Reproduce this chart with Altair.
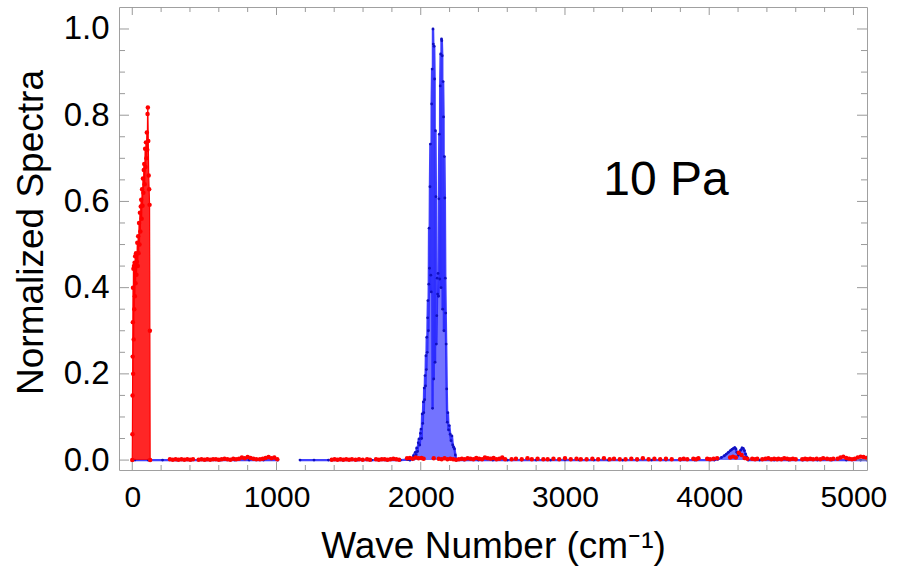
import altair as alt
import pandas as pd

# ---------------- data ----------------
# red series: strong low-frequency band (0-124 cm-1)
red_rot_x = [0, 1, 2, 3, 4, 5, 6, 8, 10, 12,
             14, 16, 18, 20, 23, 26, 29, 32, 35, 38,
             41, 44, 47, 50, 53, 56, 59, 62, 65, 68,
             71, 74, 77, 80, 83, 86, 89, 92, 95, 98,
             101, 104, 106, 108, 111, 114, 117, 120, 122, 124]
red_rot_y = [0.0, 0.06, 0.15, 0.24, 0.32, 0.40, 0.20, 0.444, 0.28, 0.45,
             0.35, 0.458, 0.38, 0.473, 0.41, 0.48, 0.43, 0.46, 0.504, 0.45,
             0.519, 0.48, 0.55, 0.50, 0.574, 0.53, 0.588, 0.604, 0.56, 0.628,
             0.59, 0.653, 0.62, 0.673, 0.687, 0.64, 0.722, 0.68, 0.737, 0.70,
             0.76, 0.72, 0.803, 0.818, 0.74, 0.66, 0.628, 0.592, 0.30, 0.0]

# red series: near-zero points 261-1005 cm-1
red_low_x = [261, 281, 301, 321, 341, 361, 381, 401, 421,
             460, 480, 500, 520, 540, 560, 580, 600, 620, 640,
             660, 680, 700, 720, 740, 760, 780, 800, 820, 840, 860,
             885, 905, 925, 945, 965, 985, 1005]
red_low_y = [0.002, 0.001, 0.002, 0.001, 0.002, 0.001, 0.002, 0.001, 0.002,
             0.001, 0.002, 0.001, 0.002, 0.001, 0.002, 0.002, 0.001, 0.002, 0.003,
             0.002, 0.001, 0.003, 0.002, 0.003, 0.006, 0.004, 0.007, 0.005, 0.003, 0.002,
             0.002, 0.003, 0.005, 0.007, 0.004, 0.006, 0.002]

# red series: near-zero points 1383-5090 cm-1
red_high_x = [1383, 1403, 1423, 1443, 1463, 1483, 1503, 1523,
              1548, 1572, 1598,
              1628, 1648,
              1690, 1710, 1730, 1750, 1770, 1790, 1810, 1830, 1850,
              1905, 1925, 1945, 1965, 1985, 2005, 2020,
              2090,
              2125, 2145, 2165, 2185, 2205, 2225, 2245, 2265, 2285, 2305, 2325, 2345,
              2365, 2385, 2405, 2425, 2445, 2465, 2485, 2505, 2525, 2545, 2565, 2585,
              2630, 2660, 2700, 2740, 2770, 2810, 2850, 2880, 2920, 2960,
              3000, 3040, 3080, 3110, 3150, 3190, 3230, 3270, 3310, 3340,
              3380, 3420, 3460, 3500, 3540, 3580, 3620, 3660, 3700, 3740,
              3798, 3823, 3848, 3890, 3910, 3925, 3986, 4006, 4030, 4055,
              4145, 4165, 4185, 4205, 4225, 4245, 4265,
              4298, 4318, 4333, 4368, 4390, 4410, 4430, 4450, 4471, 4480, 4500, 4520,
              4540, 4560, 4580, 4600,
              4645, 4665, 4680, 4700, 4720, 4745, 4770, 4790, 4817, 4840, 4860,
              4890, 4910, 4930, 4950, 4970, 4990, 5010, 5030, 5050, 5070, 5090]
red_high_y = [0.001, 0.002, 0.001, 0.002, 0.001, 0.002, 0.001, 0.002,
              0.001, 0.002, 0.001,
              0.002, 0.001,
              0.002, 0.001, 0.002, 0.002, 0.001, 0.002, 0.003, 0.002, 0.001,
              0.004, 0.005, 0.003, 0.006, 0.004, 0.005, 0.003,
              0.004,
              0.003, 0.002, 0.004, 0.002, 0.003, 0.002, 0.001, 0.002, 0.003, 0.002, 0.004, 0.003,
              0.002, 0.005, 0.003, 0.002, 0.006, 0.004, 0.003, 0.005, 0.002, 0.003, 0.006, 0.002,
              0.002, 0.003, 0.002, 0.004, 0.002, 0.003, 0.002, 0.002, 0.003, 0.002,
              0.004, 0.002, 0.003, 0.002, 0.002, 0.003, 0.002, 0.004, 0.002, 0.003,
              0.002, 0.002, 0.003, 0.002, 0.004, 0.002, 0.003, 0.002, 0.003, 0.002,
              0.002, 0.003, 0.002, 0.003, 0.002, 0.004, 0.003, 0.002, 0.003, 0.004,
              0.006, 0.008, 0.006, 0.017, 0.012, 0.005, 0.003,
              0.003, 0.002, 0.003, 0.002, 0.003, 0.004, 0.002, 0.003, 0.002, 0.003, 0.002, 0.004,
              0.003, 0.002, 0.003, 0.002,
              0.002, 0.003, 0.002, 0.003, 0.002, 0.003, 0.002, 0.004, 0.003, 0.002, 0.003,
              0.003, 0.006, 0.008, 0.005, 0.003, 0.002, 0.003, 0.006, 0.008, 0.007, 0.005]

# blue series, first piece (18-1010 cm-1)
blue_base0_x = [18, 110, 210, 310, 410, 510, 610, 710, 810, 910, 1010]
blue_base0_y = [0.0, 0.0, 0.0, 0.0, 0.0, 0.0, 0.0, 0.0, 0.0, 0.0, 0.0]

# blue series, second piece (1163 cm-1 onwards)
blue_mid_x = [1163, 1260, 1360, 1460, 1560, 1660, 1760, 1860, 1910]
blue_mid_y = [0.0, 0.0, 0.0, 0.0, 0.0, 0.0, 0.0, 0.0, 0.001]

blue_band_x = [1925, 1935, 1942, 1950, 1956, 1962, 1968, 1972, 1978, 1983,
               1988, 1993, 1998, 2002, 2006, 2010, 2014, 2018, 2021, 2024,
               2027, 2030, 2033, 2036, 2039, 2042, 2045, 2048, 2050, 2053,
               2056, 2058, 2061, 2064, 2067, 2070, 2073, 2076, 2079, 2082,
               2085, 2087, 2090, 2093, 2096, 2099, 2102, 2105, 2108, 2111,
               2114, 2117, 2120, 2123, 2126, 2129, 2132, 2135, 2138, 2141,
               2144, 2146, 2149, 2152, 2155, 2158, 2161, 2164, 2167, 2170,
               2173, 2176, 2180, 2184, 2188, 2193, 2198, 2204, 2210, 2216,
               2222, 2228, 2234, 2240, 2248]
blue_band_y = [0.000, 0.004, 0.002, 0.010, 0.006, 0.018, 0.012, 0.028, 0.020, 0.040,
               0.049, 0.035, 0.062, 0.072, 0.050, 0.107, 0.085, 0.135, 0.110, 0.167,
               0.140, 0.196, 0.172, 0.242, 0.210, 0.285, 0.250, 0.330, 0.370, 0.300,
               0.408, 0.538, 0.445, 0.634, 0.733, 0.429, 0.390, 0.826, 0.907, 0.120,
               1.000, 0.965, 0.188, 0.960, 0.884, 0.227, 0.764, 0.611, 0.269, 0.335,
               0.422, 0.385, 0.433, 0.380, 0.606, 0.756, 0.420, 0.868, 0.942, 0.400,
               0.977, 0.973, 0.938, 0.350, 0.878, 0.796, 0.300, 0.704, 0.608, 0.422,
               0.341, 0.269, 0.165, 0.088, 0.110, 0.070, 0.080, 0.060, 0.045, 0.056,
               0.035, 0.030, 0.026, 0.012, 0.000]

blue_hi_x = [2300, 2400, 2500, 2600, 2700, 2800, 2900, 3000, 3100,
             3200, 3300, 3400, 3500, 3600, 3700, 3800, 3900, 4000]
blue_hi_y = [0.0, 0.0, 0.0, 0.0, 0.0, 0.0, 0.0, 0.0, 0.0,
             0.0, 0.0, 0.0, 0.0, 0.0, 0.0, 0.0, 0.0, 0.0]

blue_bump_x = [4036, 4060, 4085, 4105, 4119, 4133, 4147, 4158, 4168, 4177,
               4185, 4192, 4202, 4210, 4218, 4228, 4236, 4244, 4252, 4260, 4270]
blue_bump_y = [0.0, 0.002, 0.006, 0.010, 0.014, 0.018, 0.022, 0.025, 0.027, 0.029,
               0.026, 0.018, 0.012, 0.017, 0.023, 0.028, 0.027, 0.022, 0.014, 0.007, 0.0]

blue_tail_x = [4350, 4450, 4550, 4650, 4750, 4850, 4950, 5050, 5094]
blue_tail_y = [0.0, 0.0, 0.0, 0.0, 0.0, 0.0, 0.0, 0.0, 0.0]

# axis ticks
x_major = [0, 1000, 2000, 3000, 4000, 5000]
x_minor = [200, 400, 600, 800, 1200, 1400, 1600, 1800, 2200, 2400, 2600, 2800,
           3200, 3400, 3600, 3800, 4200, 4400, 4600, 4800]
y_major = [0.0, 0.2, 0.4, 0.6, 0.8, 1.0]
y_minor = [0.05, 0.1, 0.15, 0.25, 0.3, 0.35, 0.45, 0.5, 0.55, 0.65, 0.7, 0.75,
           0.85, 0.9, 0.95]

# ---------------- tables ----------------
def table(xs, ys, seg):
    return pd.DataFrame({"x": xs, "y": ys, "seg": seg})

red_band = table(red_rot_x, red_rot_y, "r0")
red_all = pd.concat([red_band,
                     table(red_low_x, red_low_y, "r1"),
                     table(red_high_x, red_high_y, "r2")], ignore_index=True)
blue_all = pd.concat([
    table(blue_base0_x, blue_base0_y, "b0"),
    table(blue_mid_x, blue_mid_y, "b1"),
    table(blue_band_x, blue_band_y, "b1"),
    table(blue_hi_x, blue_hi_y, "b1"),
    table(blue_bump_x, blue_bump_y, "b1"),
    table(blue_tail_x, blue_tail_y, "b1"),
], ignore_index=True)

# ---------------- chart ----------------
W, H = 748, 463
FONT = "Liberation Sans"
TICK = "#9a9a9a"

xs = alt.Scale(domain=[-92, 5094], nice=False, zero=False)
ys = alt.Scale(domain=[-0.023, 1.051], nice=False, zero=False)

xaxis = alt.Axis(values=x_major, format="d", title="Wave Number (cm⁻¹)",
                 grid=False, ticks=False, tickSize=0, domain=False,
                 labelFontSize=30, labelPadding=12, labelFlush=False,
                 labelOverlap=False, titleFontSize=37, titleX=W / 2, titleY=87,
                 titleBaseline="alphabetic", titleAlign="center")
yaxis = alt.Axis(values=y_major, format=".1f", title="Normalized Spectra",
                 grid=False, ticks=False, tickSize=0, domain=False,
                 labelFontSize=33, labelPadding=10, labelFlush=False,
                 labelOverlap=False, titleFontSize=37, titleX=-77, titleY=225,
                 titleAngle=270, titleBaseline="alphabetic", titleAlign="center")

X = alt.X("x:Q", scale=xs, axis=xaxis)
Y = alt.Y("y:Q", scale=ys, axis=yaxis)
Yns = alt.Y("y:Q", scale=ys, axis=yaxis, stack=None)

blue_area = alt.Chart(blue_all).mark_area(color="#0000ff", opacity=0.55, clip=True).encode(
    x=X, y=Yns, y2=alt.datum(0), detail="seg:N")
blue_line = alt.Chart(blue_all).mark_line(color="#2020ff", strokeWidth=2.4, opacity=0.85, clip=True).encode(
    x=X, y=Y, detail="seg:N")
blue_pts = alt.Chart(blue_all).mark_circle(color="#1010c0", size=8, opacity=1, clip=True).encode(
    x=X, y=Y)

red_area = alt.Chart(red_band).mark_area(color="#ff0000", opacity=0.85, clip=True).encode(
    x=X, y=Yns, y2=alt.datum(0))
red_line = alt.Chart(red_band).mark_line(color="#ff0000", strokeWidth=1.2, clip=True).encode(
    x=X, y=Y)
red_pts = alt.Chart(red_all).mark_circle(color="#ff0000", size=20, opacity=1, clip=True).encode(
    x=X, y=Y)

xmaj = pd.DataFrame({"x": x_major})
xmin = pd.DataFrame({"x": x_minor})
ymaj = pd.DataFrame({"y": y_major})
ymin = pd.DataFrame({"y": y_minor})

def xticks(df, length):
    bottom = alt.Chart(df).mark_rule(color=TICK, strokeWidth=1).encode(
        x=X, y=alt.value(H), y2=alt.value(H - length))
    top = alt.Chart(df).mark_rule(color=TICK, strokeWidth=1).encode(
        x=X, y=alt.value(0), y2=alt.value(length))
    return [bottom, top]

def yticks(df, length):
    left = alt.Chart(df).mark_rule(color=TICK, strokeWidth=1).encode(
        y=Y, x=alt.value(0), x2=alt.value(length))
    right = alt.Chart(df).mark_rule(color=TICK, strokeWidth=1).encode(
        y=Y, x=alt.value(W), x2=alt.value(W - length))
    return [left, right]

ticks = xticks(xmaj, 8) + xticks(xmin, 5) + yticks(ymaj, 10) + yticks(ymin, 6)

label = alt.Chart(pd.DataFrame({"t": ["10 Pa"]})).mark_text(
    font=FONT, fontSize=48, align="center", baseline="alphabetic", color="black"
).encode(x=alt.value(547), y=alt.value(188), text="t:N")

chart = alt.layer(
    blue_area, blue_line, blue_pts, red_area, red_line, red_pts, *ticks, label
).properties(
    width=W, height=H,
    autosize=alt.AutoSizeParams(type="none"),
    padding={"left": 119, "top": 7, "right": 32, "bottom": 104},
    background="white",
).configure_view(
    stroke="#a0a0a0", strokeWidth=1
).configure_axis(
    labelFont=FONT, titleFont=FONT, labelColor="black", titleColor="black",
    titleFontWeight="normal"
)

chart.save("out.html", embed_options={"renderer": "svg", "actions": False})
